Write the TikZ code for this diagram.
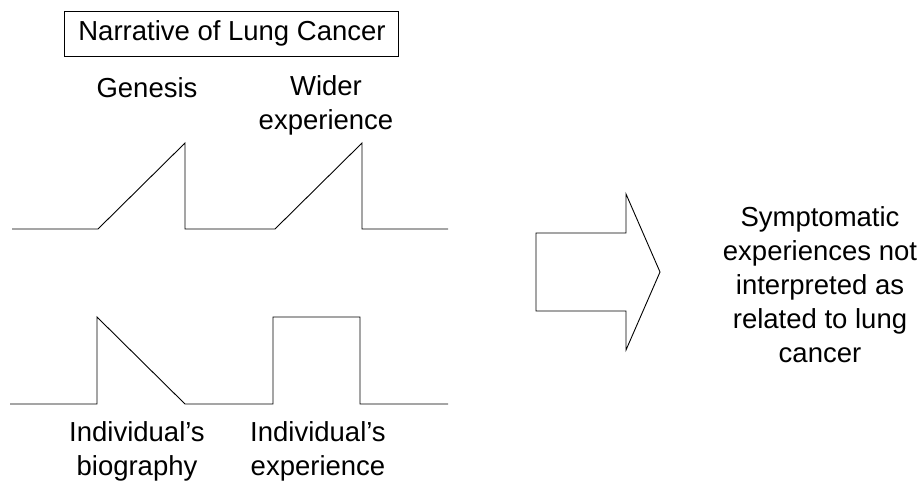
\documentclass[tikz,border=0pt]{standalone}
\usepackage{fontspec}
\setmainfont{Liberation Sans}
\begin{document}
\begin{tikzpicture}[x=1pt,y=-1pt,
  lbl/.style={font=\fontsize{27.5}{34}\selectfont, align=center, inner sep=0pt},
  wave/.style={line width=0.9pt, line join=miter},
  titlebox/.style={draw, line width=0.9pt, minimum width=334pt, minimum height=45pt, inner sep=0pt}]
\useasboundingbox (0,0) rectangle (923,485);
% title
\node[titlebox] (title) at (231,33.5) {};
\node[lbl] (titletext) at (232,33) {Narrative of Lung Cancer};
% labels
\node[lbl] (genesis) at (147,88) {Genesis};
\node[lbl] (wider) at (326,105) {Wider\\experience};
\node[lbl] (biog) at (137,451) {Individual’s\\biography};
\node[lbl] (indexp) at (318,451) {Individual’s\\experience};
\node[lbl] (result) at (820,285) {Symptomatic\\experiences not\\interpreted as\\related to lung\\cancer};
% top waveform
\draw[wave] (12,229) -- (98,229) -- (185,143) -- (185,229) -- (275,229) -- (362,143) -- (362,229) -- (448,229);
% bottom waveform
\draw[wave] (10,404) -- (97,404) -- (97,317) -- (185,404) -- (273,404) -- (273,317) -- (360,317) -- (360,404) -- (448,404);
% block arrow
\draw[wave] (536,233) -- (626,233) -- (626,194) -- (660,272) -- (626,350) -- (626,311) -- (536,311) -- cycle;
\end{tikzpicture}
\end{document}
